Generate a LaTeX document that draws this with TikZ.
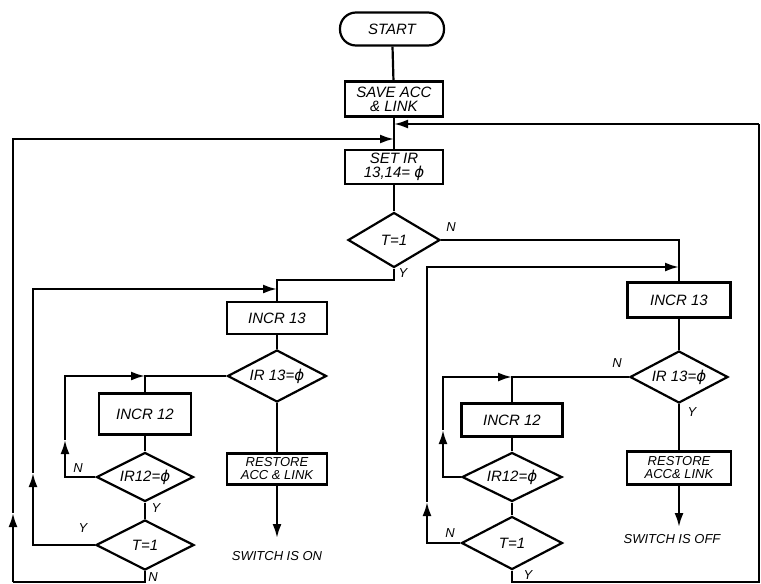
\documentclass[tikz,border=0pt]{standalone}
\usepackage{fontspec}
\setmainfont{Liberation Sans}
\newfontfamily\phifont{DejaVu Sans}
\usetikzlibrary{shapes.geometric,arrows.meta}
\newcommand\phisym{{\phifont\itshape ϕ}}
\begin{document}
\begin{tikzpicture}[x=1pt,y=-1pt,
  line width=2.2pt,
  every node/.style={font=\itshape\fontsize{15}{15}\selectfont},
  box/.style={draw, rectangle, inner sep=0pt, align=center, minimum width=100pt, minimum height=33pt},
  twoline/.style={font=\itshape\fontsize{13}{13}\selectfont},
  topline/.style={font=\itshape\fontsize{15}{14}\selectfont},
  dia/.style={draw, diamond, inner sep=0pt, aspect=2, minimum width=99pt, minimum height=51pt},
  term/.style={draw, rectangle, rounded corners=16pt, minimum width=104pt, minimum height=33pt},
  lbl/.style={font=\itshape\fontsize{13}{13}\selectfont, inner sep=0pt},
  txt/.style={font=\itshape\fontsize{13}{13}\selectfont, inner sep=0pt},
  arr/.style={-{Latex[length=14pt,width=9pt]}}
]
\useasboundingbox (0,0) rectangle (761,584);

% main column
\node[term] (start) at (392,29) {START};
\node[box, topline, minimum width=98pt, minimum height=35pt] (save) at (394,99) {SAVE ACC\\\& LINK};
\node[box, topline, minimum width=98pt, minimum height=34pt] (set) at (394,167) {SET IR\\13,14= \phisym};
\node[dia, minimum width=92pt, minimum height=55pt] (t1) at (394,240) {T=1};

% left branch
\node[box, minimum height=32pt] (incA) at (277,318) {INCR 13};
\node[dia, minimum height=52pt] (irA) at (277,376) {IR 13=\phisym};
\node[box, twoline, minimum height=31pt] (resA) at (277,469) {RESTORE\\ACC \& LINK};
\coordinate (endA) at (277,538);
\node[txt] (onA) at (277,556) {SWITCH IS ON};
\node[box, minimum width=92pt, minimum height=41pt] (incB) at (145,414) {INCR 12};
\node[dia, minimum width=97pt, minimum height=49pt] (irB) at (145,477) {IR12=\phisym};
\node[dia, minimum width=98pt, minimum height=50pt] (tB) at (145,545) {T=1};

% right branch
\node[box, minimum width=103pt, minimum height=35pt] (incC) at (679,300) {INCR 13};
\node[dia, minimum width=98pt, minimum height=52pt] (irC) at (679,377) {IR 13=\phisym};
\node[box, twoline, minimum width=104pt, minimum height=33pt] (resC) at (679,468) {RESTORE\\ACC\& LINK};
\coordinate (endC) at (679,527);
\node[txt] (offC) at (672,539) {SWITCH IS OFF};
\node[box, minimum width=101pt, minimum height=33pt] (incD) at (512,420) {INCR 12};
\node[dia, minimum width=100pt, minimum height=49pt] (irD) at (512,477) {IR12=\phisym};
\node[dia, minimum width=101pt, minimum height=53pt] (tD) at (512,543) {T=1};

% helper coordinates
\coordinate (tr) at (759,124);
\coordinate (br) at (759,582);
\coordinate (tl) at (13,139);
\coordinate (bl) at (13,582);
\coordinate (uL) at (13,513);
\coordinate (j1) at (394,280);
\coordinate (uA) at (33,473);
\coordinate (hA) at (33,289);
\coordinate (uB) at (65,440);
\coordinate (uD) at (443,430);
\coordinate (uE) at (427,502);
\coordinate (hE) at (427,267);

% main connectors
\draw (start) -- (save);
\draw (save) -- (set);
\draw (set) -- (t1);
\draw (t1.east) -| (incC.north);
\draw (t1.south) -- (j1) -| (incA.north);

% outer loops
\draw (tD.south) |- (br) -- (tr);
\draw[arr] (tr) -- (tr -| save.south);
\draw (tB.south) |- (bl);
\draw[arr] (bl) -- (uL);
\draw[arr] (uL) -- (tl) -- (tl -| set.north);

% left branch connectors
\draw (incA) -- (irA);
\draw (irA) -- (resA);
\draw[arr] (resA) -- (endA);
\draw (irA.west) -| (incB.north);
\draw (incB) -- (irB);
\draw (irB) -- (tB);
\draw[arr] (irB.west) -| (uB);
\draw[arr] (uB) |- (incB.north |- irA.west);
\draw[arr] (tB.west) -| (uA);
\draw[arr] (uA) -- (hA) -- (hA -| incA.north);

% right branch connectors
\draw (incC) -- (irC);
\draw (irC) -- (resC);
\draw[arr] (resC) -- (endC);
\draw (irC.west) -| (incD.north);
\draw (incD) -- (irD);
\draw (irD) -- (tD);
\draw[arr] (irD.west) -| (uD);
\draw[arr] (uD) |- (incD.north |- irC.west);
\draw[arr] (tD.west) -| (uE);
\draw[arr] (uE) -- (hE) -- (hE -| incC.north);

% branch labels
\node[lbl] (n1) at (451,227) {N};
\node[lbl] (y1) at (403,273) {Y};
\node[lbl] (nB) at (78,468) {N};
\node[lbl] (yB) at (156,508) {Y};
\node[lbl] (yT) at (83,528) {Y};
\node[lbl] (nT) at (153,577) {N};
\node[lbl] (nC) at (617,363) {N};
\node[lbl] (yC) at (692,412) {Y};
\node[lbl] (nD) at (450,533) {N};
\node[lbl] (yD) at (528,575) {Y};
\end{tikzpicture}
\end{document}
